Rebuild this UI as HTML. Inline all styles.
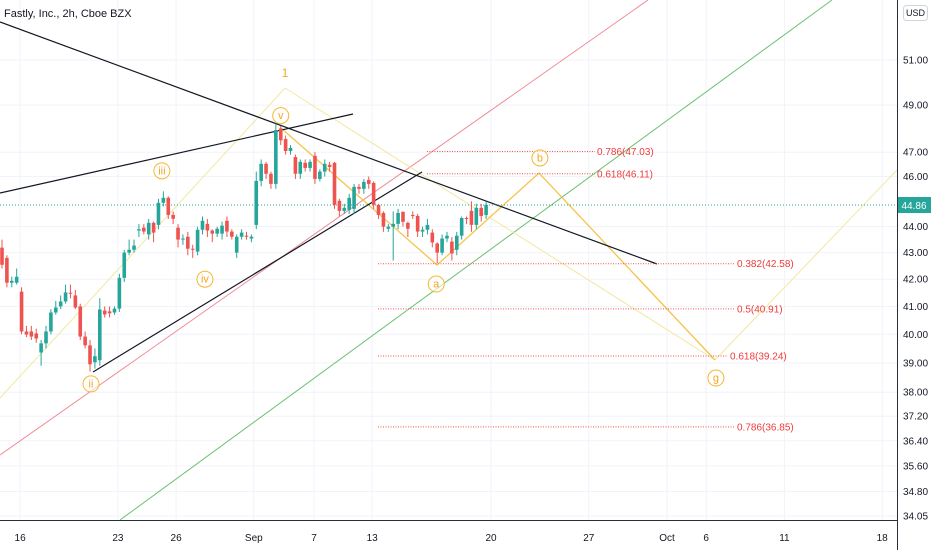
<!DOCTYPE html>
<html><head><meta charset="utf-8"><style>
body{margin:0;background:#fff;font-family:"Liberation Sans",sans-serif}
svg text{font-family:"Liberation Sans",sans-serif}
</style></head><body>
<svg id="chart" width="932" height="550" viewBox="0 0 932 550" xmlns="http://www.w3.org/2000/svg">
<rect width="932" height="550" fill="#fff"/>
<g id="grid"></g>
<g id="draw">
 <line x1="0" y1="455" x2="648" y2="0" stroke="#f08a96" stroke-width="1"/>
 <line x1="120" y1="520" x2="832" y2="0" stroke="#6cc070" stroke-width="1"/>
 <line x1="0" y1="398" x2="285" y2="88" stroke="#f3e7a0" stroke-width="1"/>
 <line x1="285" y1="88" x2="715" y2="360" stroke="#f3e7a0" stroke-width="1"/>
 <line x1="715" y1="360" x2="897" y2="170" stroke="#f3e7a0" stroke-width="1"/>
 <polyline points="281,128 437,265 539,173 715,360" fill="none" stroke="#f5c54a" stroke-width="1.3"/>
 <line x1="0" y1="22" x2="657" y2="264" stroke="#131722" stroke-width="1.2"/>
 <line x1="0" y1="193" x2="353" y2="114" stroke="#131722" stroke-width="1.2"/>
 <line x1="93" y1="372" x2="422" y2="172" stroke="#131722" stroke-width="1.2"/>
 <line x1="0" y1="205" x2="897" y2="205" stroke="#26a69a" stroke-width="1" stroke-dasharray="1,2"/>
</g>
<g id="fib" font-size="10" fill="#ef3b3b"></g>
<g id="candles"></g>
<g id="waves" fill="none" stroke="#f5b82e" font-size="11"></g>
<rect x="897" y="0" width="35" height="550" fill="#fff"/>
<rect x="0" y="520" width="932" height="30" fill="#fff"/>
<line x1="897.5" y1="0" x2="897.5" y2="550" stroke="#2a2e39" stroke-width="1"/>
<line x1="0" y1="520.5" x2="897" y2="520.5" stroke="#2a2e39" stroke-width="1"/>
<g id="yaxis" font-size="10" fill="#131722"></g>
<g id="xaxis" font-size="10" fill="#131722"></g>
<rect x="898" y="197" width="33" height="16" fill="#26a69a"/>
<text x="914" y="209" font-size="10" fill="#fff" text-anchor="middle">44.86</text>
<rect x="903.5" y="5.5" width="24" height="15" rx="3" fill="#fff" stroke="#d1d4dc"/>
<text x="915.5" y="16" font-size="9" fill="#131722" text-anchor="middle">USD</text>
<text x="4" y="17" font-size="11" fill="#131722">Fastly, Inc., 2h, Cboe BZX</text>
</svg>
<script>
const opens=[43.19,42.80,41.87,41.87,41.54,40.10,40.10,40.03,39.36,39.68,40.10,40.78,41.00,41.18,41.50,41.40,41.00,39.92,39.61,39.02,39.09,40.85,40.82,40.78,40.92,42.05,43.00,43.11,43.85,43.96,43.70,44.15,44.07,44.94,45.14,44.46,43.96,43.52,43.61,43.15,43.04,43.88,44.11,43.85,43.73,43.73,44.23,43.81,43.00,43.61,43.65,43.54,44.07,45.82,46.52,46.11,45.70,48.00,47.55,47.05,46.80,46.11,46.56,46.35,46.85,45.90,46.20,46.48,46.56,45.02,44.62,44.66,44.70,45.58,45.50,45.86,45.74,44.86,44.54,43.92,44.00,44.11,44.58,44.15,44.46,44.42,43.81,43.88,43.77,43.35,43.00,43.54,43.42,43.11,43.65,44.34,44.62,44.07,44.74,44.46];
const closes=[42.54,41.87,41.94,42.09,40.10,39.99,39.92,39.85,39.68,40.10,40.78,40.96,41.18,41.51,41.47,40.96,39.92,39.61,38.95,39.23,40.89,40.71,40.75,40.92,42.05,43.00,43.11,43.27,43.90,43.81,44.15,43.77,44.94,45.14,44.46,44.31,43.50,43.54,43.15,43.11,43.88,44.23,43.85,43.73,43.92,44.04,43.81,43.61,43.61,43.77,43.61,43.61,45.82,46.52,46.11,45.70,47.93,47.50,47.05,47.18,46.11,46.60,46.35,46.60,45.90,46.20,46.52,46.39,44.86,44.62,44.74,45.14,45.58,45.50,45.78,45.70,44.86,44.46,44.00,44.00,44.11,44.54,44.19,43.92,44.42,43.81,43.88,44.07,43.39,43.00,43.54,43.65,42.97,43.65,44.34,44.31,44.07,44.74,44.42,44.86];
const highs=[43.5,42.9,42.1,42.4,41.7,40.3,40.3,40.2,39.8,40.3,40.9,41.2,41.4,41.8,41.8,41.6,41.1,40.1,39.8,39.5,41.3,41.0,41.0,41.0,42.2,43.1,43.5,43.5,44.1,44.1,44.3,44.2,45.1,45.4,45.2,44.6,44.1,43.7,43.8,43.3,44.0,44.4,44.3,43.9,44.0,44.2,44.4,43.9,43.7,43.9,43.8,43.7,46.2,46.7,46.6,46.2,48.2,48.1,47.7,47.3,46.9,46.7,46.7,46.7,47.0,46.3,46.7,46.6,46.6,45.1,44.9,45.3,45.7,45.7,45.9,46.0,45.8,44.9,44.6,44.1,44.6,44.7,44.6,44.2,44.6,44.5,44.0,44.3,43.9,43.4,43.7,43.8,43.6,43.8,44.4,44.4,45.0,44.9,44.9,45.0];
const lows=[42.4,41.7,41.7,41.8,40.0,39.9,39.8,39.7,38.9,39.5,40.0,40.7,40.9,41.1,41.3,40.9,39.8,39.5,38.7,38.8,38.9,40.6,40.6,40.7,40.8,41.9,42.9,43.0,43.6,43.7,43.5,43.4,43.9,44.8,44.3,44.1,43.2,43.3,42.9,42.8,42.9,43.7,43.6,43.4,43.6,43.5,43.6,43.5,42.8,43.5,43.5,43.4,43.9,45.6,45.9,45.5,45.5,47.3,46.9,46.9,45.9,45.9,46.2,46.2,45.7,45.8,46.0,46.2,44.7,44.4,44.5,44.5,44.5,45.3,45.3,45.5,44.7,44.3,43.8,43.8,42.7,43.9,44.0,43.6,44.3,43.6,43.6,43.7,43.2,42.6,42.9,43.4,42.7,42.9,43.5,44.1,43.8,43.9,44.2,44.3];
const priceTicks=[51,49,47,46,44,43,42,41,40,39,38,37.2,36.4,35.6,34.8,34.05];
const dateLabels=["16","23","26","Sep","7","13","20","27","Oct","6","11","18"];
const dateBarIdx=[3.7,23.7,35.6,51.5,63.8,75.7,100,120,136,144,160,180];
const fibRatios=["0.786","0.618","0.382","0.5","0.618","0.786"];
const fibPrices=[47.03,46.11,42.58,40.91,39.24,36.85];
const waveNames=["ii","iii","iv","v","a","b","g"];
const waveBar=[18.2,32.7,41.5,57,88.8,110,146];
const wavePrice=[38.28,46.23,42.0,48.55,41.82,46.76,38.48];

const NS="http://www.w3.org/2000/svg";
const Y=p=>60+1129*Math.log(51/p);
const X=i=>2+i*4.89;
function mk(t,a,parent){const e=document.createElementNS(NS,t);for(const k in a)e.setAttribute(k,a[k]);parent.appendChild(e);return e;}
const grid=document.getElementById('grid'),ya=document.getElementById('yaxis'),xa=document.getElementById('xaxis');
priceTicks.forEach(p=>{
  const l=mk('line',{x1:0,x2:897,y1:Y(p),y2:Y(p),stroke:'#f0f3fa'},grid);
  
  
  const t=mk('text',{x:903,y:Y(p)+3.5},ya);t.textContent=p.toFixed(2);
  
  
});
dateLabels.forEach((d,k)=>{
  const x=X(dateBarIdx[k]);
  const l=mk('line',{x1:x,x2:x,y1:0,y2:520,stroke:'#f0f3fa'},grid);
  
  
  const t=mk('text',{x:x,y:541,'text-anchor':'middle'},xa);t.textContent=d;
  
  
});
const cg=document.getElementById('candles');
opens.forEach((o,i)=>{
  const c=closes[i],col=c>=o?'#26a69a':'#ef5350',x=X(i);
  const g=mk('g',{},cg);
  
  
  mk('line',{x1:x,x2:x,y1:Y(highs[i]),y2:Y(lows[i]),stroke:col,'stroke-width':1},g);
  const top=Y(Math.max(o,c)),bot=Y(Math.min(o,c));
  mk('rect',{x:x-1.8,y:top,width:3.6,height:Math.max(1,bot-top),fill:col},g);
});
const fg=document.getElementById('fib');
fibPrices.forEach((p,k)=>{
  const y=Y(p),upper=p>45.5;
  const x1=upper?427:378,x2=upper?595:(k==4?728:735);
  const l=mk('line',{x1:x1,x2:x2,y1:y,y2:y,stroke:'#ef5350','stroke-width':1,'stroke-dasharray':'1,1.5'},fg);
  
  
  const t=mk('text',{x:x2+2,y:y+3.5},fg);t.textContent=fibRatios[k]+'('+p.toFixed(2)+')';
  
  
});
const wg=document.getElementById('waves');
waveNames.forEach((n,k)=>{
  const x=X(waveBar[k]),y=Y(wavePrice[k]);
  const g=mk('g',{},wg);
  
  
  mk('circle',{cx:x,cy:y,r:8,stroke:'#f5b82e','stroke-width':1,fill:'#fff','fill-opacity':0.6},g);
  const t=mk('text',{x:x,y:y+3.5,'text-anchor':'middle',fill:'#f5a623',stroke:'none'},g);t.textContent=n;
});
const one=mk('text',{x:285,y:77,'text-anchor':'middle','font-size':12,fill:'#f5a623',stroke:'none'},wg);
one.textContent='1';


</script>
</body></html>
